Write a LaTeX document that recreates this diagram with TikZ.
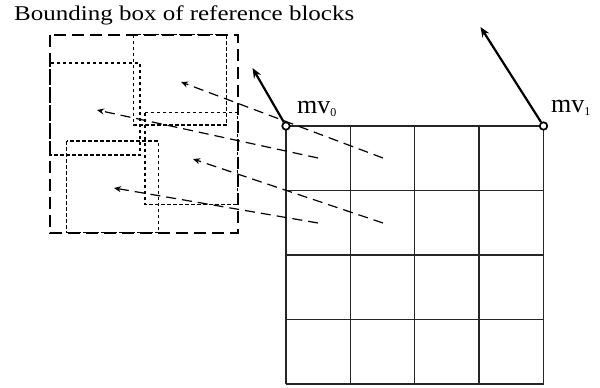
\documentclass[tikz,border=0pt]{standalone}
\usepackage{fontspec}
\setmainfont{Liberation Serif}
\usetikzlibrary{arrows.meta}
\begin{document}
\begin{tikzpicture}[x=1pt,y=-1pt,
  gridline/.style={line width=1.3pt,black!85},
  bigbox/.style={line width=2pt,dash pattern=on 12pt off 6pt},
  refblock/.style={line width=1.6pt,dash pattern=on 3.5pt off 2.5pt},
  mvdash/.style={line width=1.2pt,dash pattern=on 10pt off 6pt,-{Stealth[length=7pt,width=6pt]}},
  mvarrow/.style={line width=2.2pt,-{Stealth[length=10pt,width=8pt]}},
  ctrlpt/.style={circle,draw,fill=white,line width=1.7pt,inner sep=0pt,minimum size=7.5pt},
  mvlabel/.style={anchor=base west,inner sep=0pt,font=\fontsize{26}{26}\selectfont},
  titlelabel/.style={anchor=base west,inner sep=0pt,font=\fontsize{21}{21}\selectfont}]
\useasboundingbox (0,0) rectangle (600,388);
% title
\node[titlelabel] (title) at (14,20.7) {\scalebox{1.19}[1]{Bounding box of reference blocks}};
% bounding box and reference blocks
\draw[bigbox] (49.5,34.5) rectangle (237.5,232.5);
\draw[refblock] (133.5,34.5) rectangle (226.5,125);
\draw[refblock] (50,63) rectangle (140,155);
\draw[refblock] (145,112.5) rectangle (237.5,204.5);
\draw[refblock] (66.5,141) rectangle (158.5,232.5);
% grid
\foreach \i in {0,...,4} {
  \draw[gridline] (286+64.375*\i,126) -- (286+64.375*\i,384);
  \draw[gridline] (286,126+64.5*\i) -- (543.5,126+64.5*\i);
}
% sub-block motion vectors
\coordinate (s1) at (383,158);
\coordinate (e1) at (181,82);
\coordinate (s2) at (318,158);
\coordinate (e2) at (97,110);
\coordinate (s3) at (383,223);
\coordinate (e3) at (193,159);
\coordinate (s4) at (318,223);
\coordinate (e4) at (114,188);
\draw[mvdash] (s1) -- (e1);
\draw[mvdash] (s2) -- (e2);
\draw[mvdash] (s3) -- (e3);
\draw[mvdash] (s4) -- (e4);
% control point motion vectors
\node[ctrlpt] (p0) at (286,126) {};
\node[ctrlpt] (p1) at (543.5,126) {};
\coordinate (t0) at (252.5,68);
\coordinate (t1) at (480.5,27);
\draw[mvarrow] (p0) -- (t0);
\draw[mvarrow] (p1) -- (t1);
\node[mvlabel] (l0) at (297,113) {mv\raisebox{-3pt}{\fontsize{12}{12}\selectfont 0}};
\node[mvlabel] (l1) at (551,112) {mv\raisebox{-3pt}{\fontsize{12}{12}\selectfont 1}};
\end{tikzpicture}
\end{document}
